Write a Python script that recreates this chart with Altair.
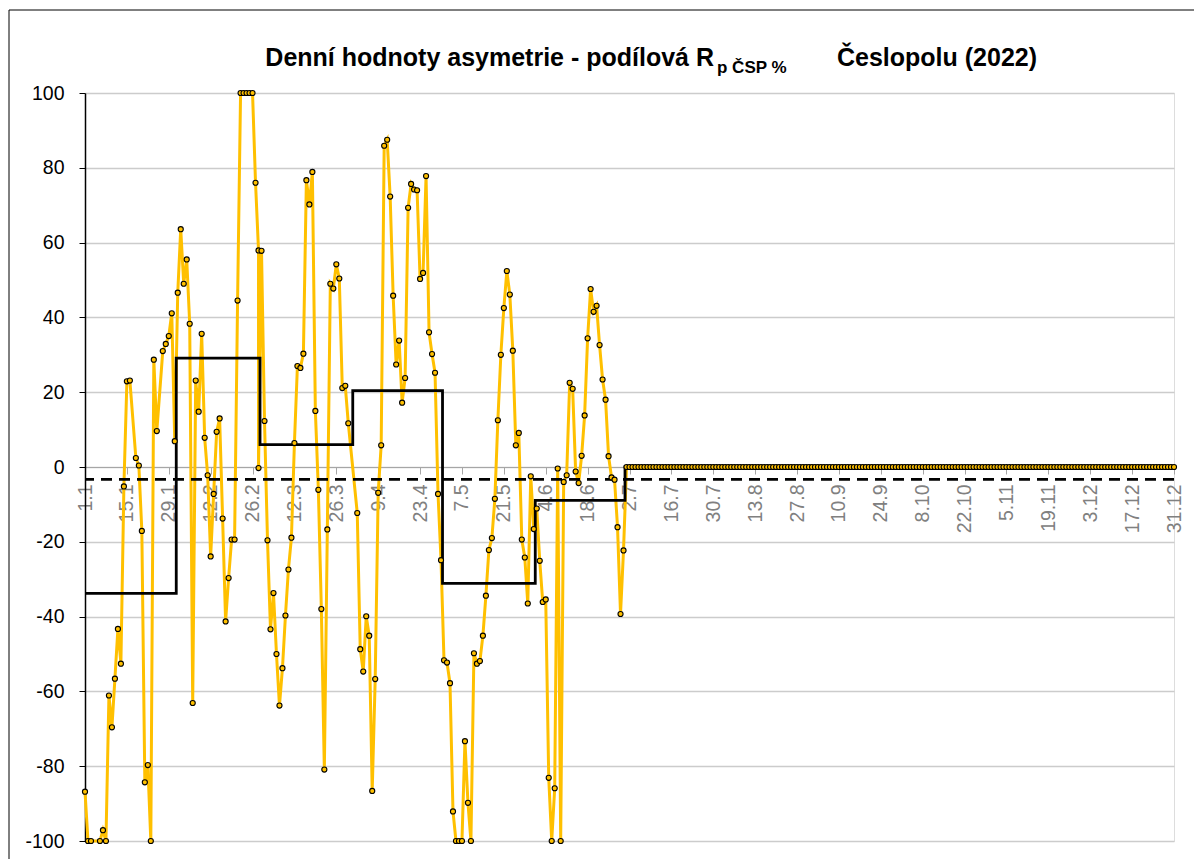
import altair as alt
import pandas as pd

# ---------------- data ----------------
tick_days = [1, 15, 29, 43, 57, 71, 85, 99, 113, 127, 141, 155, 169, 183, 197,
             211, 225, 239, 253, 267, 281, 295, 309, 323, 337, 351, 365]
tick_labels = ["1.1", "15.1", "29.1", "12.2", "26.2", "12.3", "26.3", "9.4", "23.4",
               "7.5", "21.5", "4.6", "18.6", "2.7", "16.7", "30.7", "13.8", "27.8",
               "10.9", "24.9", "8.10", "22.10", "5.11", "19.11", "3.12", "17.12", "31.12"]

# day-of-year positions of the plotted daily points (some January days have no value)
jan_days = [1, 2, 3, 6, 7, 8, 9, 10, 11, 12, 13, 14, 15, 16, 18, 19, 20, 21, 22, 23,
            24, 25, 27, 28, 29, 30, 31]
jan_values = [-86.8, -100, -100, -100, -97.1, -100, -61.1, -69.6, -56.6, -43.3, -52.6,
              -5.2, 22.9, 23.1, 2.4, 0.4, -17.1, -84.3, -79.7, -100, 28.7, 9.6, 31.0,
              32.9, 35.0, 41.1, 6.9]
feb_days = list(range(32, 60))
feb_values = [46.6, 63.6, 49.0, 55.5, 38.3, -63.1, 23.1, 14.8, 35.6, 7.8, -2.2, -23.9,
              -7.2, 9.4, 13.0, -13.8, -41.3, -29.7, -19.4, -19.4, 44.5, 100, 100, 100,
              100, 100, 76.0, 57.9]
mar_days = [59] + list(range(60, 90))
mar_values = [-0.3, 57.8, 12.3, -19.6, -43.4, -33.7, -50.0, -63.8, -53.8, -39.7, -27.4,
              -18.9, 6.4, 27.0, 26.5, 30.3, 76.7, 70.2, 78.9, 15.0, -6.1, -38.0, -80.9,
              -16.7, 49.0, 47.7, 54.2, 50.4, 21.1, 21.7, 11.7]
apr_days = list(range(92, 121))
apr_values = [-12.3, -48.7, -54.7, -39.9, -45.1, -86.6, -56.7, -6.9, 5.8, 85.9, 87.5,
              72.3, 45.8, 27.4, 33.8, 17.2, 23.8, 69.3, 75.7, 74.2, 74.0, 50.3, 51.9,
              77.8, 36.0, 30.2, 25.2, -7.2, -24.9]
may_days = list(range(121, 152))
may_values = [-51.7, -52.3, -57.8, -92.1, -100, -100, -100, -73.3, -89.8, -100, -49.8,
              -52.6, -51.9, -45.1, -34.4, -22.2, -19.0, -8.5, 12.5, 30.0, 42.5, 52.4,
              46.1, 31.1, 5.8, 9.1, -19.4, -24.2, -36.5, -2.5, -16.6]
jun_days = list(range(152, 182))
jun_values = [-11.1, -25.1, -36.1, -35.4, -83.1, -100, -85.9, -0.4, -100, -4.0, -2.2,
              22.5, 20.9, -1.2, -4.3, 3.0, 13.8, 34.4, 47.6, 41.5, 43.1, 32.6, 23.4,
              18.0, 2.9, -2.8, -3.4, -16.1, -39.3, -22.3]
jul_dec_days = list(range(182, 366))
jul_dec_values = [0] * len(jul_dec_days)   # every day from 1.7 to 31.12 reads 0

month_lengths = [31, 28, 31, 30, 31, 30, 31, 31, 30, 31, 30, 31]
month_means = [-33.8, 29.1, 6.0, 20.4, -31.1, -8.9, 0, 0, 0, 0, 0, 0]
overall_mean = -3.3

# ---------------- tables ----------------
days = jan_days + feb_days + mar_days + apr_days + may_days + jun_days + jul_dec_days
vals = (jan_values + feb_values + mar_values + apr_values + may_values + jun_values
        + jul_dec_values)
daily = pd.DataFrame({"day": days, "v": vals, "seq": range(len(days))})

step_rows = []
d = 1
for n, m in zip(month_lengths, month_means):
    for _ in range(n):
        step_rows.append({"day": d, "v": m})
        d += 1
steps = pd.DataFrame(step_rows)
mean_df = pd.DataFrame({"v": [overall_mean]})
one = pd.DataFrame({"a": [0]})

W, H = 1089, 748
YELLOW = "#FFC000"
FONT = "Liberation Sans"

label_list = "[" + ",".join("'%s'" % t for t in tick_labels) + "]"


def xenc():
    return alt.X("day:Q",
                 scale=alt.Scale(domain=[1, 365], nice=False, zero=False),
                 axis=alt.Axis(values=tick_days, title=None, grid=False,
                               labelExpr=label_list + "[round((datum.value-1)/14)]",
                               offset=-H / 2, labelAngle=-90, labelFontSize=19.5,
                               labelFont=FONT, labelColor="#808080",
                               tickColor="#a6a6a6", tickSize=7, labelPadding=10,
                               domainColor="#a6a6a6", domainWidth=1,
                               labelOverlap=False, labelBound=False, labelFlush=False))


def yenc():
    return alt.Y("v:Q",
                 scale=alt.Scale(domain=[-100, 100], nice=False, zero=False),
                 axis=alt.Axis(values=list(range(-100, 101, 20)), title=None,
                               labelExpr="'' + datum.value",
                               grid=True, gridColor="#cccccc", gridWidth=1.5,
                               labelFontSize=19.5, labelFont=FONT, labelColor="#000000",
                               tickColor="#000000", tickSize=6, labelPadding=15,
                               domainColor="#000000", domainWidth=1.5))


yellow_line = alt.Chart(daily).mark_line(color=YELLOW, strokeWidth=3).encode(
    x=xenc(), y=yenc(), order="seq:Q")

step_line = alt.Chart(steps).mark_line(color="#000000", strokeWidth=2.8,
                                       interpolate="step").encode(x=xenc(), y=yenc())

mean_rule = alt.Chart(mean_df).mark_rule(color="#000000", strokeWidth=2.8,
                                         strokeDash=[11, 7]).encode(y=yenc())

points = alt.Chart(daily).mark_circle(size=26, color=YELLOW, opacity=1,
                                      stroke="#000000", strokeWidth=1.1).encode(
    x=xenc(), y=yenc())

border = alt.Chart(one).mark_rect(fillOpacity=0, stroke="#000000", strokeWidth=1).encode(
    x=alt.value(-76), x2=alt.value(W + 60), y=alt.value(-83), y2=alt.value(H + 60))

t1 = alt.Chart(one).mark_text(text="Denní hodnoty asymetrie - podílová R", align="right",
                              baseline="alphabetic", font=FONT, fontSize=25,
                              fontWeight="bold", color="#000000").encode(
    x=alt.value(629), y=alt.value(-27))
t2 = alt.Chart(one).mark_text(text="p ČSP %", align="left", baseline="alphabetic",
                              font=FONT, fontSize=17, fontWeight="bold",
                              color="#000000").encode(x=alt.value(632), y=alt.value(-20))
t3 = alt.Chart(one).mark_text(text="Česlopolu (2022)", align="left", baseline="alphabetic",
                              font=FONT, fontSize=25, fontWeight="bold",
                              color="#000000").encode(x=alt.value(752), y=alt.value(-27))

chart = alt.layer(yellow_line, step_line, mean_rule, points, border, t1, t2, t3).properties(
    width=W, height=H,
    padding={"left": 77, "top": 85, "right": 20, "bottom": 18},
    autosize=alt.AutoSizeParams(type="none"),
).configure_view(stroke="#a6a6a6", strokeWidth=1).configure(background="white")

chart.save("out.html", embed_options={"renderer": "svg", "actions": False})
